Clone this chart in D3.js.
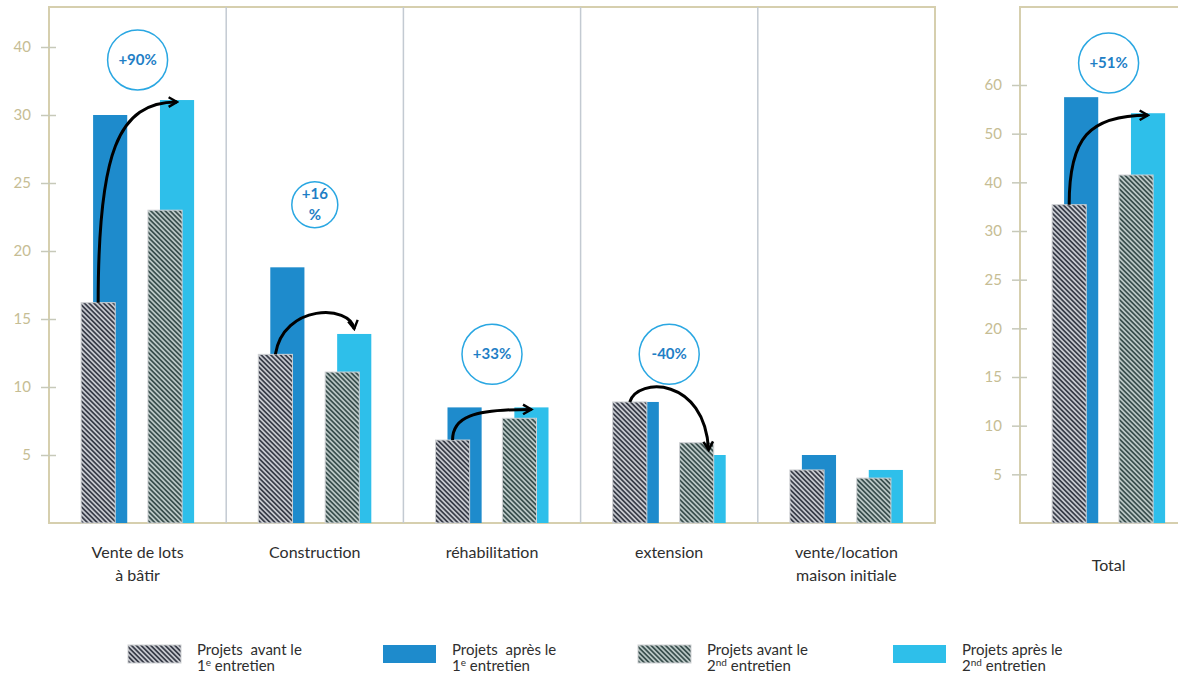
<!DOCTYPE html>
<html>
<head>
<meta charset="utf-8">
<script src="https://cdn.jsdelivr.net/npm/d3@7"></script>
<style>
  body { margin: 0; background: #fff; }
  text { font-family: Lato, "Open Sans", sans-serif; }
</style>
</head>
<body>
<div id="chart"></div>
<script>
// categories and values
const categories = ["Vente de lots\nà bâtir", "Construction", "réhabilitation", "extension", "vente/location\nmaison initiale"];
const avant1 = [16.2, 12.4, 6.1, 8.9, 3.9];
const apres1 = [30, 18.8, 8.5, 8.9, 5.0];
const avant2 = [23, 11.1, 7.7, 5.9, 3.3];
const apres2 = [32.2, 13.9, 8.5, 5.0, 3.9];

const totalCategory = "Total";
const totalValues = [35.4, 57.5, 41.5, 54.2]; // avant1, apres1, avant2, apres2

// tick labels (the original axes are not linear)
const leftTicks = [0, 5, 10, 15, 20, 25, 30, 40];
const rightTicks = [0, 5, 10, 15, 20, 25, 30, 40, 50, 60];

// evolution bubbles
const changes = ["+90%", "+16\n%", "+33%", "-40%"];
const changeLevels = [38.1, 23.4, 12.4, 12.4];
const totalChange = "+51%";
const totalChangeLevel = 64.5;

const legendLine1 = ["Projets  avant le", "Projets  après le", "Projets avant le", "Projets après le"];
const legendOrdinal = ["1", "1", "2", "2"];
const legendSup = ["e", "e", "nd", "nd"];

const W = 1178, H = 675;
const topY = 7, baseY = 523;
const frameColor = "#d6cfae";
const tickColor = "#c6bd94";
const blue1 = "#1e8bcc", blue2 = "#2ebfea";

const svg = d3.select("#chart").append("svg")
  .attr("width", W)
  .attr("height", H);

svg.append("rect").attr("width", W).attr("height", H).attr("fill", "#fff");

// hatch patterns
const defs = svg.append("defs");
function hatch(id, bg, fg) {
  const p = defs.append("pattern")
    .attr("id", id)
    .attr("patternUnits", "userSpaceOnUse")
    .attr("width", 3.4).attr("height", 3.4)
    .attr("patternTransform", "rotate(45)");
  p.append("rect").attr("width", 3.4).attr("height", 3.4).attr("fill", bg);
  p.append("line").attr("x1", 0).attr("y1", 1.7).attr("x2", 3.4).attr("y2", 1.7)
    .attr("stroke", fg).attr("stroke-width", 1.5);
}
hatch("hatch1", "#c6c8ce", "#262b38");
hatch("hatch2", "#b9c6c4", "#29403f");

defs.append("marker")
  .attr("id", "arrow")
  .attr("viewBox", "0 0 10 10")
  .attr("refX", 8).attr("refY", 5)
  .attr("markerWidth", 4).attr("markerHeight", 4)
  .attr("orient", "auto")
  .append("path")
  .attr("d", "M1,1 L8,5 L1,9")
  .attr("fill", "none")
  .attr("stroke", "#000")
  .attr("stroke-width", 2)
  .attr("stroke-linejoin", "miter");

// scales
const x = d3.scaleBand().domain(categories).range([49, 935]);
const xT = d3.scaleBand().domain([totalCategory]).range([1020, 1020 + x.bandwidth()]);
const inner = d3.scaleBand().domain([0, 1]).range([0, x.bandwidth()])
  .paddingInner(0.31).paddingOuter(0.48);
const barW = inner.bandwidth() * 0.74;
const shift = inner.bandwidth() - barW;

const yL = d3.scaleLinear().domain(leftTicks)
  .range(leftTicks.map((d, i) => baseY - i * (baseY - 47) / (leftTicks.length - 1)));
const yR = d3.scaleLinear().domain(rightTicks)
  .range(rightTicks.map((d, i) => baseY - i * (baseY - 85) / (rightTicks.length - 1)));

// frames
const g = svg.append("g");
g.append("rect")
  .attr("x", x.range()[0]).attr("y", topY)
  .attr("width", x.range()[1] - x.range()[0]).attr("height", baseY - topY)
  .attr("fill", "none").attr("stroke", frameColor).attr("stroke-width", 2);
g.append("rect")
  .attr("x", xT.range()[0]).attr("y", topY)
  .attr("width", xT.bandwidth()).attr("height", baseY - topY)
  .attr("fill", "none").attr("stroke", frameColor).attr("stroke-width", 2);

g.selectAll(".divider")
  .data(categories.slice(1))
  .enter()
  .append("line")
  .attr("class", "divider")
  .attr("x1", d => x(d)).attr("x2", d => x(d))
  .attr("y1", topY).attr("y2", baseY)
  .attr("stroke", "#c3cad2").attr("stroke-width", 1.5);

// axes
function drawAxis(scale, ticks, xpos) {
  const ax = svg.append("g")
    .attr("transform", `translate(${xpos},0)`)
    .call(d3.axisLeft(scale).tickValues(ticks.slice(1)).tickSize(8).tickPadding(10));
  ax.select(".domain").remove();
  ax.selectAll(".tick line").attr("x1", -8).attr("x2", 7)
    .attr("stroke", "#c7c9b9").attr("stroke-width", 1.5);
  ax.selectAll(".tick text")
    .attr("x", -18)
    .attr("fill", tickColor)
    .style("font-size", "15px")
    .style("font-family", "Lato, sans-serif");
}
drawAxis(yL, leftTicks, 49);
drawAxis(yR, rightTicks, 1020);

// bars
const series = [
  { values: apres1, total: totalValues[1], pair: 0, dx: shift, fill: blue1 },
  { values: apres2, total: totalValues[3], pair: 1, dx: shift, fill: blue2 },
  { values: avant1, total: totalValues[0], pair: 0, dx: 0, fill: "url(#hatch1)", hatched: true },
  { values: avant2, total: totalValues[2], pair: 1, dx: 0, fill: "url(#hatch2)", hatched: true }
];

series.forEach(s => {
  const rows = categories.map((c, i) => ({ x0: x(c), v: s.values[i], y: yL }));
  rows.push({ x0: xT(totalCategory), v: s.total, y: yR });
  g.selectAll(null)
    .data(rows)
    .enter()
    .append("rect")
    .attr("x", d => d.x0 + inner(s.pair) + s.dx)
    .attr("y", d => d.y(d.v))
    .attr("width", barW)
    .attr("height", d => baseY - d.y(d.v))
    .attr("fill", s.fill)
    .attr("stroke", s.hatched ? "#cfd1d4" : "none")
    .attr("stroke-width", 1);
});

// arrows
function arrowPath(sx, sy, ex, barTop) {
  const dx = ex - sx;
  if (sy - barTop > 25) {
    const ey = barTop + 2;
    return `M${sx},${sy} C${sx},${sy - 0.75 * (sy - ey)} ${sx + 0.25 * dx},${ey} ${ex},${ey}`;
  }
  const ey = barTop - 5;
  const peak = Math.min(sy, ey) - 25;
  return `M${sx},${sy} C${sx + 0.1 * dx},${peak} ${ex - 0.05 * dx},${peak} ${ex},${ey}`;
}

const arrows = categories.map((c, i) => ({ x0: x(c), a: avant1[i], b: apres2[i], y: yL }));
arrows.push({ x0: xT(totalCategory), a: totalValues[0], b: totalValues[3], y: yR });

g.selectAll(".arrow")
  .data(arrows.filter((d, i) => i !== 4))
  .enter()
  .append("path")
  .attr("class", "arrow")
  .attr("d", d => arrowPath(
    d.x0 + inner(0) + barW / 2, d.y(d.a),
    d.x0 + inner(1) + shift + barW / 2, d.y(d.b)))
  .attr("fill", "none")
  .attr("stroke", "#000")
  .attr("stroke-width", 3)
  .attr("marker-end", "url(#arrow)");

// bubbles
const bubbles = changes.map((t, i) => ({ cx: x(categories[i]) + x.bandwidth() / 2, cy: yL(changeLevels[i]), t }));
bubbles.push({ cx: xT(totalCategory) + xT.bandwidth() / 2, cy: yR(totalChangeLevel), t: totalChange });

const bg = g.selectAll(".bubble")
  .data(bubbles)
  .enter()
  .append("g")
  .attr("class", "bubble")
  .attr("transform", d => `translate(${d.cx},${d.cy})`);

bg.append("circle")
  .attr("r", d => d.t.includes("\n") ? 23 : 30)
  .attr("fill", "#fff")
  .attr("stroke", "#2aa7e2")
  .attr("stroke-width", 1.5);

bg.append("text")
  .attr("text-anchor", "middle")
  .attr("fill", "#1f7fc6")
  .style("font-weight", "bold")
  .style("font-size", "15px")
  .each(function (d) {
    const lines = d.t.split("\n");
    d3.select(this).selectAll("tspan")
      .data(lines)
      .enter()
      .append("tspan")
      .attr("x", 0)
      .attr("y", (l, j) => (j - (lines.length - 1) / 2) * 21 + 5)
      .text(l => l);
  });

// category labels
const labels = categories.map(c => ({ cx: x(c) + x.bandwidth() / 2, t: c, y0: 558 }));
labels.push({ cx: xT(totalCategory) + xT.bandwidth() / 2, t: totalCategory, y0: 571 });

svg.selectAll(".cat")
  .data(labels)
  .enter()
  .append("text")
  .attr("class", "cat")
  .attr("text-anchor", "middle")
  .attr("fill", "#2e2e2e")
  .style("font-size", "16px")
  .each(function (d) {
    d3.select(this).selectAll("tspan")
      .data(d.t.split("\n"))
      .enter()
      .append("tspan")
      .attr("x", d.cx)
      .attr("y", (l, j) => d.y0 + j * 23)
      .text(l => l);
  });

// legend
const legendFills = ["url(#hatch1)", blue1, "url(#hatch2)", blue2];
const legend = svg.selectAll(".legend")
  .data(legendLine1)
  .enter()
  .append("g")
  .attr("class", "legend")
  .attr("transform", (d, i) => `translate(${128 + i * 255},0)`);

legend.append("rect")
  .attr("y", 645)
  .attr("width", 53)
  .attr("height", 18)
  .attr("fill", (d, i) => legendFills[i])
  .attr("stroke", (d, i) => i % 2 === 0 ? "#cfd1d4" : "none");

const lt = legend.append("text")
  .attr("fill", "#2e2e2e")
  .style("font-size", "15px")
  .style("white-space", "pre");
lt.append("tspan").attr("x", 69).attr("y", 655).text(d => d);
lt.append("tspan").attr("x", 69).attr("y", 671).text((d, i) => legendOrdinal[i]);
lt.append("tspan").attr("dy", -5).style("font-size", "10px").text((d, i) => legendSup[i]);
lt.append("tspan").attr("dy", 5).text(" entretien");
</script>
</body>
</html>
